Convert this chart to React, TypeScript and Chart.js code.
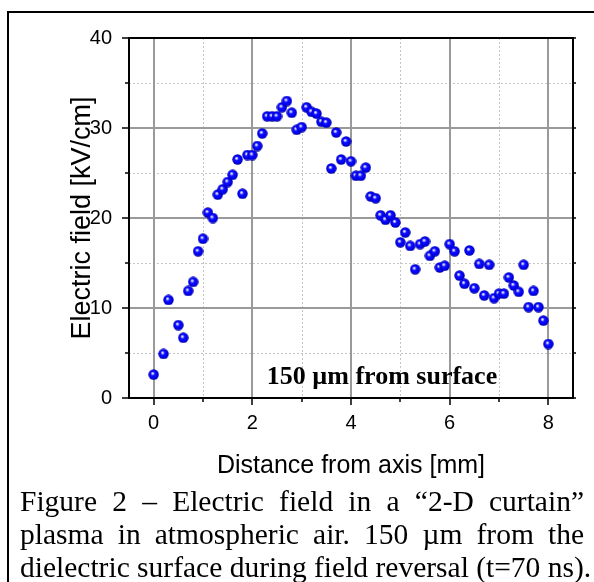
import React, { useEffect, useRef } from "react";
import { Chart, registerables } from "chart.js";

Chart.register(...registerables);

// Distance from axis [mm]
const distanceMm = [
  0, 0.2, 0.3, 0.5, 0.6, 0.7, 0.8, 0.9, 1.0, 1.1, 1.2, 1.3, 1.4, 1.5, 1.6, 1.7, 1.8, 1.9, 2.0,
  2.1, 2.2, 2.3, 2.4, 2.5, 2.6, 2.7, 2.8, 2.9, 3.0, 3.1, 3.2, 3.3, 3.4, 3.5, 3.6, 3.7, 3.8, 3.9, 4.0,
  4.1, 4.2, 4.3, 4.4, 4.5, 4.6, 4.7, 4.8, 4.9, 5.0, 5.1, 5.2, 5.3, 5.4, 5.5, 5.6, 5.7, 5.8, 5.9, 6.0,
  6.1, 6.2, 6.3, 6.4, 6.5, 6.6, 6.7, 6.8, 6.9, 7.0, 7.1, 7.2, 7.3, 7.4, 7.5, 7.6, 7.7, 7.8, 7.9, 8.0,
];
// Electric field [kV/cm]
const fieldKvCm = [
  2.6, 4.9, 10.9, 8.1, 6.7, 11.9, 12.9, 16.3, 17.7, 20.6, 20.0, 22.6, 23.2, 24.0, 24.8, 26.5, 22.7, 27.0, 27.0,
  28.0, 29.4, 31.3, 31.3, 31.3, 32.3, 33.0, 31.7, 29.8, 30.1, 32.3, 31.8, 31.6, 30.7, 30.6, 25.5, 29.5, 26.5, 28.5, 26.3,
  24.7, 24.7, 25.6, 22.4, 22.2, 20.3, 19.8, 20.3, 19.5, 17.3, 18.4, 16.9, 14.3, 17.1, 17.4, 15.8, 16.3, 14.5, 14.7, 17.1,
  16.3, 13.6, 12.7, 16.4, 12.2, 14.9, 11.4, 14.8, 11.1, 11.6, 11.6, 13.4, 12.5, 11.8, 14.8, 10.1, 11.9, 10.1, 8.6, 6.0,
];

const xMajorTicks = [0, 2, 4, 6, 8];
const xMinorTicks = [1, 3, 5, 7];
const yMajorTicks = [0, 10, 20, 30, 40];
const yMinorTicks = [5, 15, 25, 35];

const xTitle = "Distance from axis [mm]";
const yTitle = "Electric field [kV/cm]";
const annotationText = "150 \u00b5m from surface";
const captionLines = [
  "Figure 2 \u2013 Electric field in a \u201c2-D curtain\u201d",
  "plasma in atmospheric air. 150 \u00b5m from the",
  "dielectric surface during field reversal (t=70 ns).",
];

const W = 594;
const H = 582;

function makeSphere(): HTMLCanvasElement {
  const c = document.createElement("canvas");
  c.width = 11;
  c.height = 11;
  const g = c.getContext("2d")!;
  const grad = g.createRadialGradient(4.3, 4.1, 0.2, 5.5, 5.5, 5.3);
  grad.addColorStop(0, "#ffffff");
  grad.addColorStop(0.16, "#b0b0ff");
  grad.addColorStop(0.36, "#1010ff");
  grad.addColorStop(0.78, "#0000f0");
  grad.addColorStop(1, "#000090");
  g.fillStyle = grad;
  g.beginPath();
  g.arc(5.5, 5.5, 5.2, 0, Math.PI * 2);
  g.fill();
  return c;
}

const framePlugin = {
  id: "framePlugin",
  beforeDatasetsDraw(chart: any) {
    const { ctx, chartArea: a, scales } = chart;
    const xs = scales.x;
    const ys = scales.y;
    ctx.save();
    ctx.strokeStyle = "#c4c4c4";
    ctx.lineWidth = 1;
    ctx.setLineDash([2, 2]);
    ctx.beginPath();
    xMinorTicks.forEach((v) => {
      const p = Math.round(xs.getPixelForValue(v)) + 0.5;
      ctx.moveTo(p, a.top);
      ctx.lineTo(p, a.bottom);
    });
    yMinorTicks.forEach((v) => {
      const p = Math.round(ys.getPixelForValue(v)) + 0.5;
      ctx.moveTo(a.left, p);
      ctx.lineTo(a.right, p);
    });
    ctx.stroke();
    ctx.setLineDash([]);
    ctx.strokeStyle = "#9a9a9a";
    ctx.lineWidth = 2;
    ctx.beginPath();
    xMajorTicks.forEach((v) => {
      const p = Math.round(xs.getPixelForValue(v));
      ctx.moveTo(p, a.top);
      ctx.lineTo(p, a.bottom);
    });
    yMajorTicks.forEach((v) => {
      const p = Math.round(ys.getPixelForValue(v));
      ctx.moveTo(a.left, p);
      ctx.lineTo(a.right, p);
    });
    ctx.stroke();
    ctx.restore();
  },
  afterDatasetsDraw(chart: any) {
    const { ctx, chartArea: a, scales } = chart;
    const xs = scales.x;
    const ys = scales.y;
    ctx.save();
    ctx.strokeStyle = "#000";
    ctx.lineWidth = 2;
    ctx.strokeRect(Math.round(a.left), Math.round(a.top), Math.round(a.right - a.left), Math.round(a.bottom - a.top));
    ctx.lineWidth = 1.5;
    ctx.beginPath();
    yMajorTicks.forEach((v) => {
      const p = Math.round(ys.getPixelForValue(v));
      ctx.moveTo(a.left, p);
      ctx.lineTo(a.left - 7, p);
      ctx.moveTo(a.right, p);
      ctx.lineTo(a.right + 3, p);
    });
    yMinorTicks.forEach((v) => {
      const p = Math.round(ys.getPixelForValue(v));
      ctx.moveTo(a.left, p);
      ctx.lineTo(a.left - 4, p);
      ctx.moveTo(a.right, p);
      ctx.lineTo(a.right + 3, p);
    });
    xMajorTicks.forEach((v) => {
      const p = Math.round(xs.getPixelForValue(v));
      ctx.moveTo(p, a.bottom);
      ctx.lineTo(p, a.bottom + 7);
    });
    xMinorTicks.forEach((v) => {
      const p = Math.round(xs.getPixelForValue(v));
      ctx.moveTo(p, a.bottom);
      ctx.lineTo(p, a.bottom + 4);
    });
    ctx.stroke();
    ctx.restore();
  },
};

export default function App() {
  const ref = useRef<HTMLCanvasElement | null>(null);

  useEffect(() => {
    if (!ref.current) return;
    const sphere = makeSphere();
    const chart = new Chart(ref.current, {
      type: "scatter",
      data: {
        datasets: [
          {
            label: "E",
            data: distanceMm.map((x, i) => ({ x, y: fieldKvCm[i] })),
            pointStyle: sphere as any,
            pointRadius: 5.5,
            backgroundColor: "#0000ff",
          },
        ],
      },
      options: {
        animation: false,
        responsive: false,
        events: [],
        layout: { padding: { top: 38, right: 21, left: 0, bottom: 0 } },
        plugins: { legend: { display: false }, tooltip: { enabled: false } },
        scales: {
          x: {
            type: "linear",
            min: -0.5,
            max: 8.5,
            afterBuildTicks: (s: any) => {
              s.ticks = xMajorTicks.map((v) => ({ value: v }));
            },
            afterFit: (s: any) => {
              s.height = H - 398;
            },
            grid: { display: false },
            border: { display: false },
            ticks: {
              padding: 5,
              color: "#000",
              font: { family: "'Liberation Sans', Arial, sans-serif", size: 20 },
              callback: (v: any) => String(v),
            },
            title: {
              display: true,
              text: xTitle,
              color: "#000",
              font: { family: "'Liberation Sans', Arial, sans-serif", size: 25 },
              padding: { top: 0, bottom: 101 },
            },
          },
          y: {
            type: "linear",
            min: 0,
            max: 40,
            afterBuildTicks: (s: any) => {
              s.ticks = yMajorTicks.map((v) => ({ value: v }));
            },
            afterFit: (s: any) => {
              s.width = 129;
            },
            grid: { display: false },
            border: { display: false },
            ticks: {
              padding: 9,
              color: "#000",
              font: { family: "'Liberation Sans', Arial, sans-serif", size: 20 },
              callback: (v: any) => String(v),
            },
            title: {
              display: true,
              text: yTitle,
              color: "#000",
              font: { family: "'Liberation Sans', Arial, sans-serif", size: 27 },
              padding: { top: 66, bottom: 0 },
            },
          },
        },
      },
      plugins: [framePlugin],
    });
    return () => chart.destroy();
  }, []);

  return (
    <div
      style={{
        position: "absolute",
        left: 0,
        top: 0,
        width: W,
        height: H,
        overflow: "hidden",
        background: "#fff",
      }}
    >
      <canvas ref={ref} width={W} height={H} style={{ position: "absolute", left: 0, top: 0, width: W, height: H }} />
      <div
        style={{
          position: "absolute",
          left: 7,
          top: 11,
          width: 800,
          height: 800,
          borderLeft: "2px solid #000",
          borderTop: "2px solid #000",
          pointerEvents: "none",
        }}
      />
      <div
        style={{
          position: "absolute",
          left: 232,
          top: 358,
          width: 300,
          textAlign: "center",
          fontFamily: "'Liberation Serif', 'Times New Roman', serif",
          fontWeight: "bold",
          fontSize: 26,
          lineHeight: "36px",
          whiteSpace: "nowrap",
          color: "#000",
        }}
      >
        {annotationText}
      </div>
      {captionLines.map((line, i) => (
        <div
          key={i}
          style={{
            position: "absolute",
            left: 20,
            top: 484 + i * 33,
            width: 564,
            fontFamily: "'Liberation Serif', 'Times New Roman', serif",
            fontSize: 29.5,
            lineHeight: "34px",
            textAlign: "justify",
            textAlignLast: "justify",
            whiteSpace: "nowrap",
            color: "#000",
          }}
        >
          {line}
        </div>
      ))}
    </div>
  );
}
